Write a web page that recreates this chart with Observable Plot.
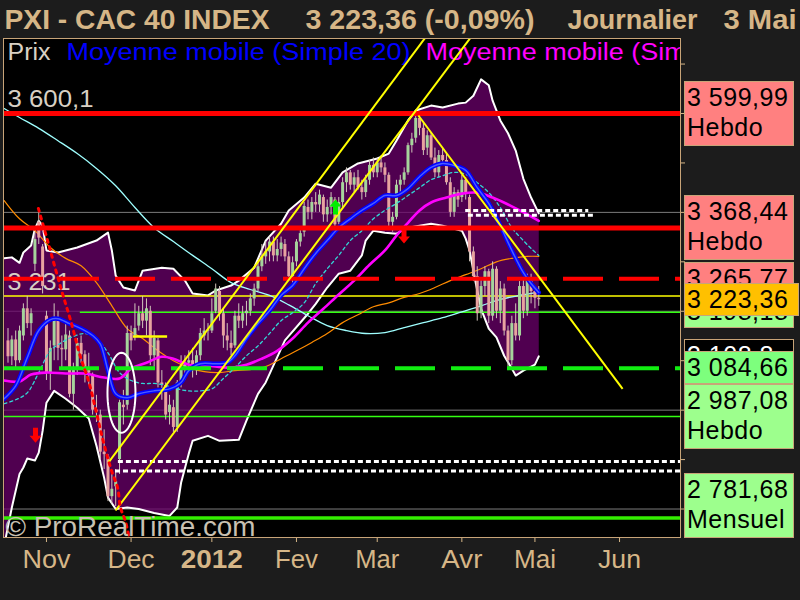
<!DOCTYPE html>
<html><head><meta charset="utf-8">
<script src="https://cdn.jsdelivr.net/npm/d3@7"></script>
<script src="https://cdn.jsdelivr.net/npm/@observablehq/plot@0.6"></script>
<style>
html,body{margin:0;padding:0;background:#1c1c1c;}
#wrap{position:relative;width:800px;height:600px;overflow:hidden;background:#1c1c1c;}
.tag{position:absolute;box-sizing:border-box;border:1px solid #c8a478;font-family:"Liberation Sans",Arial,sans-serif;font-size:25px;line-height:30px;letter-spacing:0.5px;padding-left:2px;white-space:nowrap;overflow:hidden;}
</style></head><body><div id="wrap"></div>
<script>
// CAC 40 daily candles, 18 Oct 2011 – 3 May 2012, indexed by trading day
const open = [3140,3108,3142,3100,3150,3205,3175,3295,3380,3330,
3190,3075,3130,3185,3125,3122,3150,3032,3085,3135,
3112,3080,3070,3000,2990,2915,2905,2825,2845,2900,
3010,3010,3155,3150,3170,3195,3180,3200,3110,3140,
3055,3050,2995,3005,2965,3055,3085,3095,3100,3080,
3110,3150,3160,3160,3200,3240,3195,3150,3135,3130,
3190,3180,3195,3200,3225,3245,3290,3310,3320,3340,
3312,3325,3335,3310,3270,3300,3340,3360,3410,3400,
3420,3415,3430,3395,3410,3425,3380,3420,3460,3480,
3455,3470,3450,3440,3465,3495,3480,3500,3490,3475,
3380,3390,3455,3465,3480,3535,3550,3590,3570,3530,
3555,3510,3480,3515,3505,3460,3400,3440,3430,3465,
3430,3320,3270,3195,3250,3280,3190,3285,3200,3245,
3160,3100,3175,3150,3250,3200,3260,3240,3226.3];
const high = [3165,3150,3160,3170,3215,3230,3205,3360,3408,3335,
3200,3140,3215,3200,3150,3175,3160,3095,3145,3150,
3120,3115,3075,3030,3000,2960,2910,2870,2880,3020,
3040,3170,3170,3215,3210,3230,3225,3210,3160,3145,
3080,3055,3030,3020,3060,3110,3110,3120,3125,3120,
3165,3185,3175,3225,3255,3250,3205,3175,3160,3200,
3215,3210,3220,3235,3255,3300,3335,3340,3350,3350,
3345,3350,3345,3320,3310,3345,3370,3420,3425,3430,
3440,3445,3435,3425,3440,3430,3430,3470,3490,3485,
3480,3485,3465,3475,3505,3510,3510,3515,3500,3480,
3400,3465,3475,3490,3540,3560,3600,3600,3580,3565,
3560,3530,3525,3530,3520,3470,3450,3445,3475,3470,
3435,3330,3290,3265,3290,3285,3300,3290,3260,3255,
3170,3190,3215,3260,3265,3275,3275,3245,3250];
const low = [3095,3090,3085,3095,3140,3165,3150,3280,3335,3235,
3060,3040,3100,3100,3085,3100,3025,3000,3070,3095,
3055,3050,2990,2975,2900,2880,2815,2810,2805,2870,
2970,3000,3120,3140,3160,3165,3150,3090,3085,3045,
3020,2980,2970,2955,2955,3045,3060,3080,3065,3070,
3100,3140,3140,3155,3195,3180,3125,3120,3110,3125,
3165,3165,3170,3190,3210,3240,3280,3295,3300,3300,
3300,3310,3300,3260,3255,3290,3330,3350,3385,3385,
3400,3400,3380,3380,3395,3365,3375,3410,3440,3445,
3440,3445,3425,3430,3455,3470,3470,3480,3460,3370,
3360,3385,3440,3455,3475,3520,3540,3555,3515,3515,
3505,3470,3470,3495,3455,3390,3390,3410,3420,3425,
3300,3260,3180,3185,3230,3175,3180,3185,3175,3150,
3080,3090,3140,3140,3185,3190,3215,3205,3210];
const close = [3108,3142,3100,3160,3205,3175,3195,3345,3348,3250,
3075,3125,3185,3125,3122,3152,3032,3080,3135,3112,
3078,3075,3000,2996,2915,2910,2825,2840,2855,3015,
3005,3155,3140,3165,3195,3180,3205,3110,3145,3055,
3050,2990,3010,2965,3055,3085,3095,3100,3080,3110,
3155,3160,3160,3195,3245,3195,3150,3140,3125,3190,
3180,3195,3200,3225,3245,3290,3310,3320,3340,3312,
3325,3338,3310,3270,3298,3340,3357,3412,3400,3420,
3415,3435,3395,3410,3430,3375,3420,3460,3480,3455,
3470,3450,3440,3465,3495,3480,3500,3490,3475,3380,
3390,3455,3465,3480,3535,3548,3590,3570,3525,3555,
3510,3480,3515,3505,3460,3400,3440,3425,3465,3440,
3320,3270,3195,3250,3280,3190,3285,3200,3245,3160,
3100,3175,3150,3250,3200,3265,3240,3226.3,3223.36];

// Month starts (trading-day index) and their labels
const monthIdx = [10, 32, 53, 75, 96, 118, 137, 159];
const monthLabel = ["Nov", "Dec", "2012", "Fev", "Mar", "Avr", "Mai", "Jun"];

// Bollinger envelope [day, price]
const bandUpper = [[-1,3307],[1,3309],[3,3298],[4,3319],[6,3333],[7,3367],[8,3383],[9,3373],[10,3323],[13,3319],[18,3329],[23,3343],[26,3359],[27,3323],[28,3272],[30,3248],[33,3242],[35,3282],[40,3288],[43,3286],[46,3262],[48,3236],[52,3232],[54,3242],[58,3252],[60,3262],[64,3288],[67,3343],[71,3377],[73,3404],[77,3430],[80,3458],[84,3450],[87,3481],[91,3499],[96,3509],[99,3519],[101,3545],[104,3586],[106,3606],[110,3616],[113,3612],[117,3620],[119,3622],[121,3636],[123,3669],[125,3657],[126,3626],[128,3586],[130,3560],[132,3525],[134,3468],[136,3430],[138,3398]];
const bandLower = [[-1,2726],[1,2803],[3,2871],[4,2884],[5,2902],[7,2898],[8,2914],[9,2958],[10,3015],[12,3039],[15,3023],[18,3005],[21,2983],[23,2928],[25,2863],[26,2823],[28,2800],[31,2803],[34,2800],[38,2792],[42,2786],[44,2803],[45,2853],[47,2912],[48,2938],[52,2948],[55,2938],[60,2940],[62,2979],[65,3033],[67,3056],[72,3141],[78,3195],[80,3215],[83,3248],[86,3276],[89,3282],[92,3313],[93,3343],[95,3363],[98,3359],[101,3357],[104,3369],[110,3377],[113,3373],[118,3363],[119,3347],[120,3323],[121,3282],[122,3242],[123,3205],[125,3165],[127,3147],[129,3110],[131,3084],[132,3070],[134,3080],[137,3092],[138,3108.8]];

// Moving averages [day, price]
const ma20 = [[-1,3023],[2,3049],[5,3106],[8,3161],[11,3183],[13,3185],[16,3175],[19,3165],[22,3151],[24,3134],[26,3080],[28,3033],[31,3025],[34,3033],[38,3039],[42,3043],[45,3056],[47,3080],[50,3094],[54,3094],[57,3096],[59,3110],[62,3145],[65,3175],[68,3201],[71,3232],[74,3252],[77,3286],[80,3317],[83,3343],[86,3369],[89,3387],[92,3404],[95,3418],[98,3434],[101,3434],[104,3448],[107,3472],[110,3491],[113,3499],[116,3495],[119,3485],[122,3450],[125,3418],[128,3373],[131,3323],[134,3278],[136,3256],[138,3238]];
const maDash = [[-1,3013],[2,3021],[5,3035],[8,3076],[11,3120],[14,3137],[17,3149],[20,3155],[23,3145],[26,3116],[29,3076],[32,3060],[35,3054],[38,3054],[41,3050],[44,3043],[47,3039],[50,3039],[53,3043],[56,3064],[59,3086],[62,3110],[65,3130],[68,3155],[71,3181],[74,3197],[77,3217],[80,3256],[83,3286],[86,3313],[89,3343],[92,3363],[95,3387],[98,3404],[101,3418],[104,3434],[107,3450],[110,3466],[113,3474],[116,3481],[119,3477],[122,3460],[125,3440],[128,3410],[131,3369],[134,3343],[136,3327],[138,3313]];
const ma50 = [[-1,3060],[3,3058],[6,3072],[10,3076],[15,3074],[20,3074],[25,3066],[29,3064],[32,3084],[36,3096],[40,3108],[43,3104],[47,3092],[52,3090],[57,3086],[62,3092],[66,3104],[70,3120],[74,3145],[78,3177],[82,3205],[86,3234],[90,3262],[94,3294],[98,3323],[101,3353],[104,3379],[107,3404],[110,3420],[114,3430],[118,3438],[122,3440],[126,3430],[130,3416],[134,3400],[138,3383]];
const ma100 = [[-1,3424],[3,3387],[7,3363],[11,3329],[15,3307],[19,3292],[23,3258],[27,3211],[31,3165],[35,3145],[39,3120],[43,3100],[47,3086],[51,3078],[55,3076],[59,3080],[63,3082],[67,3088],[71,3104],[75,3120],[79,3137],[83,3155],[87,3177],[91,3193],[95,3209],[99,3217],[103,3228],[107,3236],[111,3248],[115,3262],[119,3274],[123,3286],[127,3300],[131,3307],[135,3311],[138,3311]];
const ma200 = [[-1,3610],[3,3592],[8,3570],[13,3545],[18,3519],[23,3489],[28,3454],[33,3410],[38,3369],[43,3341],[48,3313],[53,3286],[58,3258],[63,3244],[68,3232],[73,3213],[78,3191],[83,3171],[88,3161],[93,3155],[98,3157],[103,3167],[108,3177],[113,3187],[118,3199],[123,3211],[128,3224],[133,3232],[138,3238]];

// Price levels
const gridLevels = [3600, 3400, 3200, 3000, 2800];
const redLevels = [3599.99, 3368.44];
const redDashLevel = 3265.77;
const greenDashLevel = 3084.66;
const greenMonthly = 2781.68;
const greenWeekly = 2987.08;
const greenThin = 3198.18;
const greenThinFrom = 18.8;
const yellowLevel = 3231;

// Right-hand level tags
const tagValue = [3599.99, 3368.44, 3265.77, 3198.18, 3108.8, 3084.66, 2987.08, 2781.68, 3223.36];
const tagDec = [2, 2, 2, 2, 1, 2, 2, 2, 2];
const tagNote = ["Hebdo", "Hebdo", "", "", "", "", "Hebdo", "Mensuel", ""];
const tagFill = ["#ff8080", "#ff8080", "#ff8080", "#9dff8d", "#000000", "#7dff7d", "#9dff8d", "#9dff8d", "#ffc000"];
const tagInk = ["#000", "#000", "#000", "#000", "#fff", "#000", "#000", "#000", "#000"];

// Left level labels
const leftValue = [3600.1, 3231];
const leftDec = [1, 0];

// Drawn trend lines
const trendX1 = [26.1, 27.95, 106.7];
const trendY1 = [2894, 2797, 3596];
const trendX2 = [110, 121, 159.8];
const trendY2 = [3769, 3761, 3043];

// Dotted white levels
const dotValue = [3404, 3394, 2896, 2877];
const dotFrom = [119, 119.7, 28.7, 27.95];
const dotTo = [151, 152.7, null, null];

// Short yellow marker
const yellowSeg = {from: 32.6, to: 41.5, v: 3149};

// Red dotted stop curve
const stopPath = [[7.9,3408],[10.5,3337],[13.7,3248],[16.3,3181],[18.9,3106],[20.9,3060],[23.0,2995],[24.1,2958],[25.9,2904],[27.2,2871],[28.5,2843],[29.25,2803],[30.5,2776],[31.5,2742]];

// Signals and circled zone
const upSignals = [[85.15, 3412]];
const downSignals = [[102.96, 3351], [7.15, 2948]];
const circled = [[29.5, 3035]];

const X0 = -1.17, X1 = 174.85, Y0 = 2742.4, Y1 = 3751.7;
dotTo[2] = X1; dotTo[3] = X1;

const tan = "#d6b687", beige = "#d8d0c4";
const sans = '"Liberation Sans", Arial, sans-serif';
const narrow = '"Liberation Sans Narrow", "Arial Narrow", "Liberation Sans", Arial, sans-serif';

function frNum(v, d) {
  const [a, b] = v.toFixed(d).split(".");
  const int = a.replace(/\B(?=(\d{3})+(?!\d))/g, " ");
  return b ? int + "," + b : int;
}

const candles = open.map((o, k) => ({i: k, o, h: high[k], l: low[k], c: close[k]}));
const months = monthIdx.map((i, k) => ({i, label: monthLabel[k]}));
const lastClose = close[close.length - 1], prevClose = close[close.length - 2];
const chg = ((lastClose / prevClose - 1) * 100).toFixed(2).replace(".", ",");
const priceTitle = `${frNum(lastClose, 2)} (${chg}%)`;
const leftLabels = leftValue.map((v, k) => ({v, t: frNum(v, leftDec[k])}));
const trends = trendX1.map((x1, k) => ({x1, y1: trendY1[k], x2: trendX2[k], y2: trendY2[k]}));
const dots = dotValue.map((v, k) => ({v, from: dotFrom[k], to: dotTo[k]}));
const bandPoly = bandUpper.concat(bandLower.slice().reverse());

const ellipse = {draw(ctx) {
  const rx = 14, ry = 40, n = 60;
  ctx.moveTo(rx, 0);
  for (let k = 1; k < n; k++) { const a = 2 * Math.PI * k / n; ctx.lineTo(rx * Math.cos(a), ry * Math.sin(a)); }
  ctx.closePath();
}};
const arrowDown = {draw(ctx) {
  ctx.moveTo(-2.5, -8); ctx.lineTo(2.5, -8); ctx.lineTo(2.5, 0); ctx.lineTo(6, 0);
  ctx.lineTo(0, 7); ctx.lineTo(-6, 0); ctx.lineTo(-2.5, 0); ctx.closePath();
}};
const arrowUp = {draw(ctx) {
  ctx.moveTo(-2.5, 8); ctx.lineTo(2.5, 8); ctx.lineTo(2.5, 0); ctx.lineTo(6, 0);
  ctx.lineTo(0, -7); ctx.lineTo(-6, 0); ctx.lineTo(-2.5, 0); ctx.closePath();
}};

const px = d => d[0], py = d => d[1];
const t1 = (s, o) => Plot.text([s], {text: d => d, ...o});

const plot = Plot.plot({
  width: 800, height: 600,
  marginTop: 38, marginRight: 120, marginBottom: 63, marginLeft: 3,
  x: {type: "linear", domain: [X0, X1]},
  y: {type: "linear", domain: [Y0, Y1]},
  color: {type: "identity"},
  style: {background: "#1c1c1c", fontFamily: sans, overflow: "visible"},
  marks: [
    Plot.frame({fill: "#000"}),
    Plot.ruleY(gridLevels, {stroke: "#7c7c7c", strokeWidth: 1}),
    // Bollinger envelope
    Plot.line(bandPoly, {x: px, y: py, fill: "#6b006b", fillOpacity: 0.75, stroke: "none", clip: true}),
    Plot.line(bandUpper, {x: px, y: py, stroke: "#fff", strokeWidth: 2, clip: true}),
    Plot.line(bandLower, {x: px, y: py, stroke: "#fff", strokeWidth: 2, clip: true}),
    // thin levels
    Plot.ruleY([yellowLevel], {stroke: "#ffff00", strokeWidth: 1.5}),
    Plot.ruleY([greenThin], {x1: greenThinFrom, x2: X1, stroke: "#33ff11", strokeWidth: 1.5}),
    Plot.ruleY([greenWeekly], {stroke: "#33ff11", strokeWidth: 1.5}),
    // long averages
    Plot.line(ma200, {x: px, y: py, stroke: "#9fffff", strokeWidth: 1.3, curve: "catmull-rom", clip: true}),
    Plot.line(ma100, {x: px, y: py, stroke: "#ff8c00", strokeWidth: 1.2, curve: "catmull-rom", clip: true}),
    // candles
    Plot.ruleX(candles, {x: "i", y1: "l", y2: "h", stroke: "#d2c6bc", strokeWidth: 1}),
    Plot.ruleX(candles, {x: "i", y1: "o", y2: d => d.c === d.o ? d.c + 2 : d.c,
      stroke: d => d.c >= d.o ? "#a6d49c" : "#e8a3a0", strokeWidth: 3}),
    // short averages
    Plot.line(maDash, {x: px, y: py, stroke: "#33d6d6", strokeWidth: 1.3, strokeDasharray: "3,3", curve: "catmull-rom", clip: true}),
    Plot.line(ma50, {x: px, y: py, stroke: "#ff00ff", strokeWidth: 2.6, curve: "catmull-rom", clip: true}),
    Plot.line(ma20, {x: px, y: py, stroke: "#0000ff", strokeWidth: 4.5, curve: "catmull-rom", clip: true}),
    Plot.line(ma20, {x: px, y: py, stroke: "#4a5cff", strokeWidth: 1.5, curve: "catmull-rom", clip: true}),
    // left level labels
    Plot.text(leftLabels, {y: "v", text: "t", frameAnchor: "left", dx: 4, dy: -6, lineAnchor: "bottom",
      textAnchor: "start", fontSize: 24, fill: beige}),
    // thick levels
    Plot.ruleY(redLevels, {stroke: "#ff0000", strokeWidth: 5}),
    Plot.ruleY([redDashLevel], {stroke: "#ff0000", strokeWidth: 4, strokeDasharray: "40,16"}),
    Plot.ruleY([greenDashLevel], {stroke: "#11ee11", strokeWidth: 4, strokeDasharray: "40,16"}),
    Plot.ruleY([greenMonthly], {stroke: "#33ee00", strokeWidth: 3.5}),
    // dotted levels
    Plot.ruleY(dots, {y: "v", x1: "from", x2: "to", stroke: "#fff", strokeWidth: 3, strokeDasharray: "5,3"}),
    Plot.ruleY([yellowSeg], {y: "v", x1: "from", x2: "to", stroke: "#ffff00", strokeWidth: 2.5}),
    // legend
    t1("Prix", {frameAnchor: "top-left", dx: 4, dy: 21, lineAnchor: "bottom", textAnchor: "start", fontSize: 23, fill: beige}),
    t1("Moyenne mobile (Simple 20)", {frameAnchor: "top-left", dx: 63, dy: 21, lineAnchor: "bottom", textAnchor: "start", fontSize: 23, fill: "#0000ff"}),
    t1("Moyenne mobile (Simple 50)", {frameAnchor: "top-left", dx: 422, dy: 21, lineAnchor: "bottom", textAnchor: "start", fontSize: 23, fill: "#ff00ff", clip: true}),
    // trend lines
    Plot.link(trends, {x1: "x1", y1: "y1", x2: "x2", y2: "y2", stroke: "#ffff00", strokeWidth: 2, clip: true}),
    // stop curve
    Plot.line(stopPath, {x: px, y: py, stroke: "#ff0000", strokeWidth: 3, strokeDasharray: "3,5", curve: "catmull-rom", clip: true}),
    // circled zone and signals
    Plot.dot(circled, {x: px, y: py, symbol: ellipse, stroke: "#fff", strokeWidth: 2, fill: "none"}),
    Plot.dot(upSignals, {x: px, y: py, symbol: arrowUp, fill: "#00ee00", stroke: "none"}),
    Plot.dot(downSignals, {x: px, y: py, symbol: arrowDown, fill: "#ff0000", stroke: "none"}),
    // watermark
    t1("© ProRealTime.com", {frameAnchor: "bottom-left", dx: 2, dy: -2, lineAnchor: "bottom", textAnchor: "start", fontSize: 28, fill: "#c8c0b2"}),
    // axes
    Plot.axisX(monthIdx, {tickSize: 5, tickFormat: () => "", stroke: tan}),
    Plot.axisY(d3.range(2800, 3701, 100), {anchor: "right", tickSize: 4, tickFormat: () => "", stroke: tan}),
    Plot.text(months.filter(d => d.label !== "2012"), {x: "i", text: "label", frameAnchor: "bottom", dy: 30,
      lineAnchor: "bottom", fontSize: 26, fill: tan}),
    Plot.text(months.filter(d => d.label === "2012"), {x: "i", text: "label", frameAnchor: "bottom", dy: 30,
      lineAnchor: "bottom", fontSize: 26, fontWeight: "bold", fill: tan}),
    // title
    t1("PXI - CAC 40 INDEX", {frameAnchor: "top-left", dx: 1, dy: -10, lineAnchor: "bottom", textAnchor: "start", fontSize: 28, fontWeight: "bold", fontFamily: narrow, fill: tan}),
    t1(priceTitle, {frameAnchor: "top-left", dx: 302, dy: -10, lineAnchor: "bottom", textAnchor: "start", fontSize: 28, fontWeight: "bold", fontFamily: narrow, fill: tan}),
    t1("Journalier", {frameAnchor: "top-left", dx: 564, dy: -10, lineAnchor: "bottom", textAnchor: "start", fontSize: 28, fontWeight: "bold", fontFamily: narrow, fill: tan}),
    t1("3 Mai", {frameAnchor: "top-left", dx: 720, dy: -10, lineAnchor: "bottom", textAnchor: "start", fontSize: 28, fontWeight: "bold", fontFamily: narrow, fill: tan}),
    Plot.frame({stroke: "#c8a478", strokeWidth: 1})
  ]
});

// fitted text widths
const widths = {
  "PXI - CAC 40 INDEX": 265, [priceTitle]: 229, "Journalier": 130, "3 Mai": 73,
  "Prix": 43, "Moyenne mobile (Simple 20)": 344, "Moyenne mobile (Simple 50)": 344,
  "3 600,1": 86, "3 231": 63, "© ProRealTime.com": 250,
  "Nov": 48, "Dec": 47, "2012": 62, "Fev": 43, "Mar": 44, "Avr": 41, "Mai": 42, "Jun": 43
};
d3.select(plot).selectAll("text").each(function() {
  const w = widths[this.textContent];
  if (w) { this.setAttribute("textLength", w); this.setAttribute("lengthAdjust", "spacingAndGlyphs"); }
});

const wrap = document.getElementById("wrap");
wrap.appendChild(plot);

// level tags on the right, placed with the y scale
const ys = plot.scale("y");
const frameBottom = ys.apply(Y0) + 1;
tagValue.forEach((v, k) => {
  const two = tagNote[k] !== "";
  const h = two ? 65 : 33;
  let top = ys.apply(v) - h / 2;
  top = Math.min(top, frameBottom - h);
  const div = document.createElement("div");
  div.className = "tag";
  const w = k === tagValue.length - 1 ? 115 : 110;
  div.style.left = "684px";
  div.style.top = top + "px";
  div.style.width = w + "px";
  div.style.height = h + "px";
  div.style.background = tagFill[k];
  div.style.color = tagInk[k];
  div.innerHTML = frNum(v, tagDec[k]) + (two ? "<br>" + tagNote[k] : "");
  wrap.appendChild(div);
});
</script></body></html>
